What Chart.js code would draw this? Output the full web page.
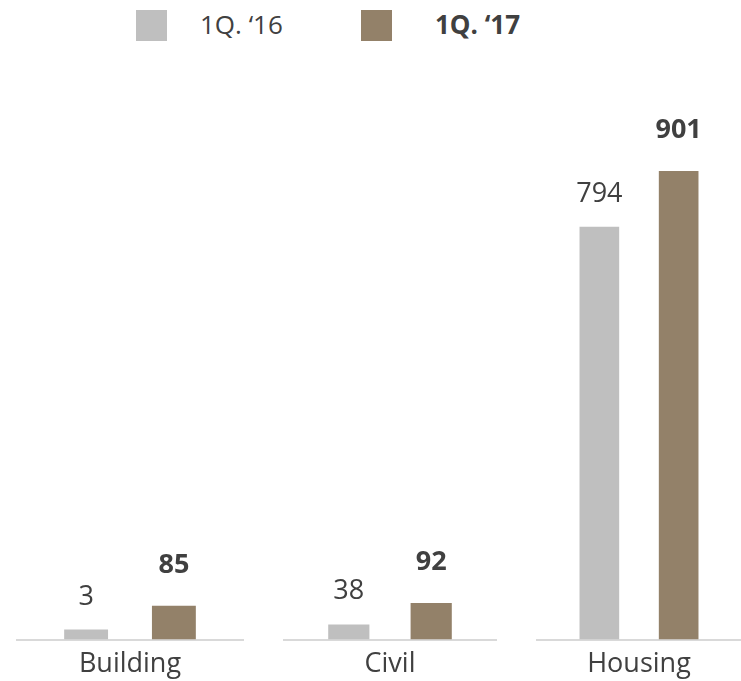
<!DOCTYPE html>
<html>
<head>
<meta charset="utf-8">
<script src="https://cdn.jsdelivr.net/npm/chart.js@4.4.1/dist/chart.umd.min.js"></script>
<style>
  html, body { margin: 0; padding: 0; background: #fff; }
  body { width: 741px; height: 681px; position: relative; overflow: hidden; font-family: "Open Sans", sans-serif; color: #404040; }
  .panel { position: absolute; top: 0; height: 690px; }
  .legend { position: absolute; top: 0; left: 0; width: 741px; height: 50px; }
  .legend .box { position: absolute; top: 10px; width: 31px; height: 31px; }
  .legend .txt { position: absolute; top: 6px; font-size: 26px; line-height: 36px; white-space: nowrap; }
</style>
</head>
<body>
<div class="legend" id="legend"></div>
<div class="panel" id="p0" style="left:16px;width:228px"><canvas id="c0"></canvas></div>
<div class="panel" id="p1" style="left:283px;width:214px"><canvas id="c1"></canvas></div>
<div class="panel" id="p2" style="left:536px;width:206px"><canvas id="c2"></canvas></div>
<script>
const categories = ["Building", "Civil", "Housing"];
const seriesNames = ["1Q. \u201816", "1Q. \u201817"];
const q16 = [3, 38, 794];
const q17 = [85, 92, 901];
// each segment has its own value axis
const axisMax = [1346, 1346, 1032];

const colors = ["#bfbfbf", "#938169"];
const textColor = "#404040";
const fontFamily = "'Open Sans', sans-serif";

// legend
const legend = document.getElementById("legend");
const legendPos = [{ box: 136, txt: 200 }, { box: 361, txt: 435 }];
seriesNames.forEach((name, i) => {
  const box = document.createElement("div");
  box.className = "box";
  box.style.left = legendPos[i].box + "px";
  box.style.background = colors[i];
  legend.appendChild(box);
  const txt = document.createElement("div");
  txt.className = "txt";
  txt.style.left = legendPos[i].txt + "px";
  txt.style.fontWeight = i === 1 ? "700" : "400";
  txt.textContent = name;
  legend.appendChild(txt);
});

// value labels above the bars
const barLabels = {
  id: "barLabels",
  afterDatasetsDraw(chart) {
    const ctx = chart.ctx;
    ctx.save();
    ctx.fillStyle = textColor;
    ctx.textAlign = "center";
    ctx.textBaseline = "alphabetic";
    chart.data.datasets.forEach((ds, di) => {
      const meta = chart.getDatasetMeta(di);
      ctx.font = (di === 1 ? "bold " : "") + "27px " + fontFamily;
      meta.data.forEach((el, j) => {
        const gap = di === 1 ? 33 : 25;
        ctx.fillText(String(ds.data[j]), el.x, el.y - gap);
      });
    });
    ctx.restore();
  },
};

categories.forEach((cat, i) => {
  new Chart(document.getElementById("c" + i), {
    type: "bar",
    data: {
      labels: [cat],
      datasets: [
        { label: seriesNames[0], data: [q16[i]], backgroundColor: colors[0] },
        { label: seriesNames[1], data: [q17[i]], backgroundColor: colors[1] },
      ],
    },
    options: {
      responsive: true,
      maintainAspectRatio: false,
      animation: false,
      events: [],
      layout: { padding: { top: 103, bottom: 0, left: 0, right: 0 } },
      datasets: {
        bar: { categoryPercentage: 0.77, barPercentage: 0.5, minBarLength: 10 },
      },
      scales: {
        x: {
          grid: { display: false, drawTicks: false },
          border: { display: true, color: "#d9d9d9", width: 2 },
          ticks: { color: textColor, padding: 9, font: { family: fontFamily, size: 27 } },
        },
        y: { display: false, min: 0, max: axisMax[i] },
      },
      plugins: { legend: { display: false }, tooltip: { enabled: false } },
    },
    plugins: [barLabels],
  });
});
</script>
</body>
</html>
